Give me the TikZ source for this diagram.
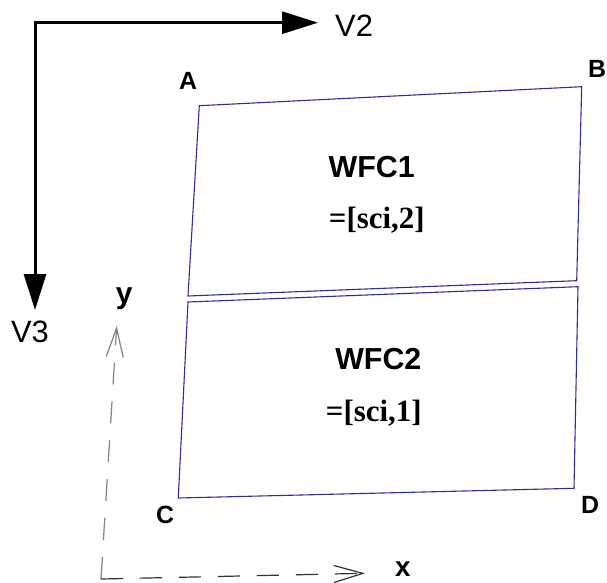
\documentclass[tikz,border=0pt]{standalone}
\usepackage{fontspec}
\setmainfont{Liberation Serif}
\setsansfont{Liberation Sans}
\usetikzlibrary{arrows.meta}
\definecolor{quadblue}{RGB}{45,45,155}
\definecolor{axisgray}{RGB}{130,130,130}
\definecolor{axisdark}{RGB}{50,50,50}
\begin{document}
\begin{tikzpicture}[x=1bp,y=-1bp,
  lbl/.style={inner sep=0pt,anchor=base,font=\sffamily\bfseries\fontsize{25}{30}\selectfont},
  vlbl/.style={inner sep=0pt,anchor=base,font=\sffamily\fontsize{31}{36}\selectfont},
  wfc/.style={inner sep=0pt,anchor=base,font=\sffamily\bfseries\fontsize{30.5}{36}\selectfont},
  sci/.style={inner sep=0pt,anchor=base,font=\rmfamily\bfseries\fontsize{31}{36}\selectfont},
  quad/.style={draw=quadblue,line width=1.1bp,line join=miter},
  vaxis/.style={line width=3bp,line join=miter,-{Triangle[length=36bp,width=22bp]}},
  dashaxis/.style={line width=1.2bp,dash pattern=on 22bp off 17bp,
    -{Straight Barb[length=29bp,width=17bp,line width=1.2bp]}}]
\useasboundingbox (0,0) rectangle (607,583);
% frame vectors
\coordinate (corner) at (35,22.7);
\coordinate (v2tip) at (318,22.7);
\coordinate (v3tip) at (35,310);
\draw[vaxis] (corner) -- (v2tip);
\draw[vaxis] (corner) -- (v3tip);
\draw[line width=3bp] (35,21.2) -- (35,24);
\node[vlbl,anchor=base west] (V2) at (335,37) {V2};
\node[vlbl] (V3) at (30,342.7) {V3};
% quads
\coordinate (qa) at (199.3,105.7);
\coordinate (qb) at (581.7,86.7);
\coordinate (qbr) at (576.7,280.7);
\coordinate (qbl) at (188,296);
\coordinate (qtl) at (188,302);
\coordinate (qtr) at (578,286.7);
\coordinate (qd) at (574,488.3);
\coordinate (qc) at (178.3,498);
\draw[quad] (qa) -- (qb) -- (qbr) -- (qbl) -- cycle;
\draw[quad] (qtl) -- (qtr) -- (qd) -- (qc) -- cycle;
\node[lbl] (A) at (188,89.3) {A};
\node[lbl] (B) at (597,77.5) {B};
\node[lbl] (C) at (165,523) {C};
\node[lbl] (D) at (590,513) {D};
\node[wfc] (w1) at (371.7,177.3) {WFC1};
\node[sci] (s1) at (376.8,228) {=[sci,2]};
\node[wfc] (w2) at (378.3,369.3) {WFC2};
\node[sci] (s2) at (373.8,421) {=[sci,1]};
% dashed axes
\coordinate (o) at (101,579);
\coordinate (ytip) at (116.7,326);
\coordinate (xtip) at (365,573.3);
\draw[dashaxis,draw=axisgray] (o) -- (ytip);
\draw[dashaxis,draw=axisdark] (o) -- (xtip);
\node[lbl,font=\sffamily\bfseries\fontsize{30}{36}\selectfont] (ylbl) at (124.3,303) {y};
\node[lbl,font=\sffamily\bfseries\fontsize{28}{34}\selectfont] (xlbl) at (403,576.5) {x};
\end{tikzpicture}
\end{document}
